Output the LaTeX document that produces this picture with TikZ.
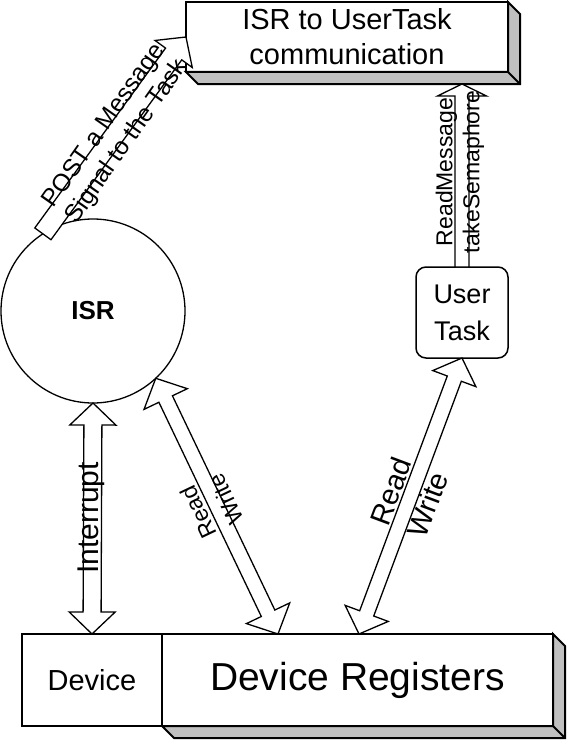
\documentclass[tikz,border=0pt]{standalone}
\usepackage{fontspec}
\setmainfont{Liberation Sans}
\usetikzlibrary{calc}
\definecolor{shadowgray}{HTML}{C0C0C0}
\tikzset{
  boxface/.style={draw, fill=white, line width=2pt, outer sep=0pt, inner sep=0pt, align=center},
  shadowface/.style={draw, fill=shadowgray, line width=2pt, line join=miter},
  arrowbody/.style={draw, fill=white, line width=1.3pt, line join=miter},
  lbl/.style={inner sep=0pt, align=center},
}
% double block arrow: #1 tip A, #2 tip B, #3 half shaft, #4 half head, #5 head length
\newcommand\dblockarrow[5]{%
  \path ($(#1)!#5!(#2)$) coordinate (tmpP) ($(#2)!#5!(#1)$) coordinate (tmpQ);
  \draw[arrowbody] (#1)
    -- ($(tmpP)!#4!90:(#2)$) -- ($(tmpP)!#3!90:(#2)$)
    -- ($(tmpQ)!#3!-90:(#1)$) -- ($(tmpQ)!#4!-90:(#1)$)
    -- (#2)
    -- ($(tmpQ)!#4!90:(#1)$) -- ($(tmpQ)!#3!90:(#1)$)
    -- ($(tmpP)!#3!-90:(#2)$) -- ($(tmpP)!#4!-90:(#2)$)
    -- cycle;}
% single block arrow: #1 tail A, #2 tip B
\newcommand\sblockarrow[5]{%
  \path ($(#2)!#5!(#1)$) coordinate (tmpQ);
  \draw[arrowbody] ($(#1)!#3!90:(#2)$)
    -- ($(tmpQ)!#3!-90:(#1)$) -- ($(tmpQ)!#4!-90:(#1)$)
    -- (#2)
    -- ($(tmpQ)!#4!90:(#1)$) -- ($(tmpQ)!#3!90:(#1)$)
    -- ($(#1)!#3!-90:(#2)$)
    -- cycle;}
\begin{document}
\begin{tikzpicture}[x=1pt,y=-1pt]
\useasboundingbox (0,0) rectangle (576,752);

% top box with 3D depth
\node[boxface, minimum width=322pt, minimum height=70pt,
      font=\fontsize{29}{35}\selectfont] (comm) at (347,37) {ISR to UserTask\\communication};
\draw[shadowface] (comm.north east) -- ++(12,12) -- ++(0,70)
   -- ($(comm.south west)+(12,12)$) -- (comm.south west) -- (comm.south east) -- cycle;
\draw[line width=2pt] (comm.south east) -- ++(12,12);

% ISR circle
\node[circle, draw, line width=1.3pt, minimum size=184pt, inner sep=0pt, outer sep=0pt,
      font=\fontsize{26}{30}\selectfont\bfseries] (isr) at (93,311) {ISR};

% User Task
\node[boxface, line width=1.5pt, rounded corners=10pt, minimum width=92pt, minimum height=91pt,
      font=\fontsize{27}{37}\selectfont] (ut) at (462,312.5) {User\\Task};

% Device and Device Registers
\node[boxface, minimum width=140pt, minimum height=92pt,
      font=\fontsize{29}{34}\selectfont] (dev) at (92,680) {Device};
\draw[shadowface] (553,634) -- ++(12,12) -- ++(0,92) -- (174,738) -- (162,726) -- (553,726) -- cycle;
\node[boxface, minimum width=391pt, minimum height=92pt,
      font=\fontsize{39}{45}\selectfont] (reg) at (357.5,680) {Device Registers};
\draw[line width=2pt] (reg.south east) -- ++(12,12);

% connector end points
\coordinate (postA) at (isr.123);
\coordinate (postB) at (comm.west);
\coordinate (rw1B) at ($(reg.north west)+(116,0)$);
\coordinate (rw2B) at ($(reg.north west)+(197,0)$);
\coordinate (rmB) at ($(comm.south)+(115,12)$);

% arrows
\sblockarrow{postA}{postB}{10pt}{23pt}{21pt}
\dblockarrow{isr.south}{dev.north}{9pt}{23pt}{22pt}
\dblockarrow{isr.-47}{rw1B}{7.5pt}{24pt}{23pt}
\dblockarrow{ut.south}{rw2B}{7.5pt}{23pt}{22pt}
\sblockarrow{ut.north}{rmB}{7pt}{24.5pt}{12pt}

% labels
\node[lbl, rotate=54.9, font=\fontsize{24.5}{28}\selectfont] (postlbl) at (116,134) {POST a Message\\Signal to the Task};
\node[lbl, rotate=90, font=\fontsize{30}{34}\selectfont] (intlbl) at (91,518) {Interrupt};
\node[lbl, rotate=115.5, font=\fontsize{23}{31}\selectfont] (rw1lbl) at (212,506) {Read\\Write};
\node[lbl, rotate=69.5, font=\fontsize{29}{39}\selectfont] (rw2lbl) at (409,498) {Read\\Write};
\node[lbl, rotate=90, font=\fontsize{23}{27}\selectfont] (rmlbl) at (460,172) {ReadMessage\\takeSemaphore};
\end{tikzpicture}
\end{document}
